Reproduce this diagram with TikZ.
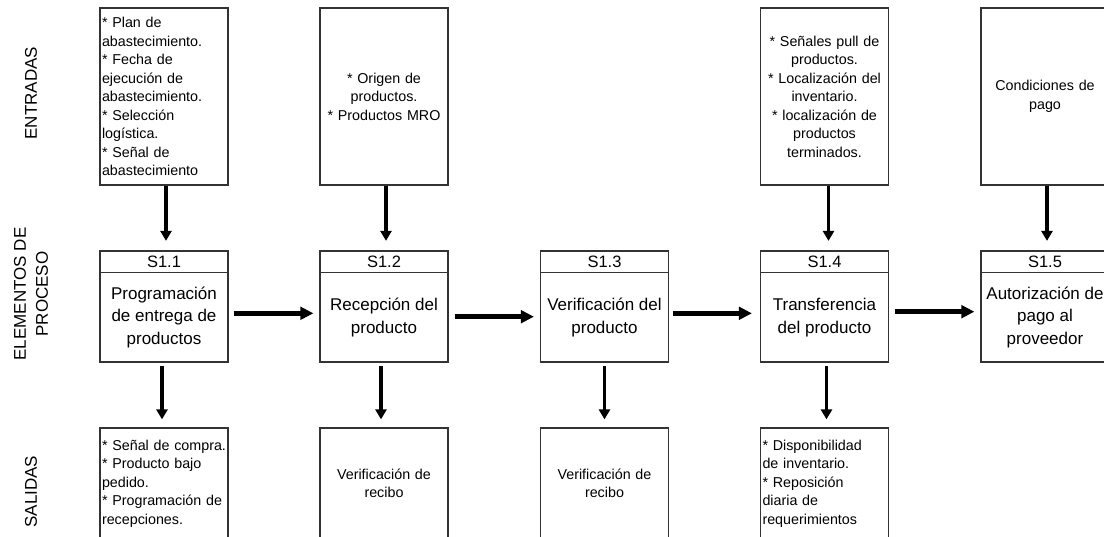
\documentclass[tikz,border=0pt]{standalone}
\usepackage{fontspec}
\setmainfont{Liberation Sans}
\usetikzlibrary{arrows.meta}
\newcommand{\nl}{\\\relax}
\begin{document}
\begin{tikzpicture}[x=1pt,y=-1pt,
  box/.style={draw=black!80, line width=1.2pt, minimum width=128pt, inner xsep=2pt, inner ysep=0pt, text width=124pt, font=\fontsize{14.3}{18.5}\selectfont},
  ibox/.style={box, minimum height=177pt},
  obox/.style={box, minimum height=111pt},
  pbox/.style={draw=black!80, line width=1.2pt, minimum width=128pt, minimum height=111pt, inner sep=0pt},
  hline/.style={draw=black!80, line width=1.2pt},
  hdr/.style={font=\fontsize{16.5}{20}\selectfont, inner sep=0pt},
  ptext/.style={font=\fontsize{17}{22.5}\selectfont, align=center, inner sep=0pt},
  lbl/.style={font=\fontsize{17}{22}\selectfont, rotate=90, align=center, inner sep=0pt},
  varrow/.style={line width=3.5pt, -{Triangle[length=10pt,width=11pt]}},
  harrow/.style={line width=4.5pt, -{Triangle[length=13pt,width=12.5pt]}}
]
\useasboundingbox[fill=white] (0,0) rectangle (1104,537);

% row labels
\node[lbl] (lin) at (31,93.3) {ENTRADAS};
\node[lbl] (lpr) at (31,294) {ELEMENTOS DE\\PROCESO};
\node[lbl] (lout) at (31,491.7) {SALIDAS};

% inputs
\node[ibox, align=left] (i1) at (164,96.5) {* Plan de\nl abastecimiento.\nl * Fecha de\nl ejecución de\nl abastecimiento.\nl * Selección\nl logística.\nl * Señal de\nl abastecimiento};
\node[ibox, align=center] (i2) at (384,96.5) {* Origen de\nl productos.\nl * Productos MRO};
\node[ibox, align=center] (i4) at (824.5,96.5) {* Señales pull de\nl productos.\nl * Localización del\nl inventario.\nl * localización de\nl productos\nl terminados.};
\node[ibox, align=center] (i5) at (1045,96.5) {Condiciones de\nl pago};

% process boxes
\foreach \n/\x/\lab in {1/164/S1.1, 2/384/S1.2, 3/604.5/S1.3, 4/824.5/S1.4, 5/1045/S1.5}{
  \node[pbox] (p\n) at (\x,306.5) {};
  \draw[hline] ([yshift=-22pt]p\n.north west) -- ([yshift=-22pt]p\n.north east);
  \node[hdr] (h\n) at ([yshift=-11.5pt]p\n.north) {\lab};
}
\node[ptext] (t1) at ([yshift=-11pt]p1.center) {Programación\\de entrega de\\productos};
\node[ptext] (t2) at ([yshift=-11pt]p2.center) {Recepción del\\producto};
\node[ptext] (t3) at ([yshift=-11pt]p3.center) {Verificación del\\producto};
\node[ptext] (t4) at ([yshift=-11pt]p4.center) {Transferencia\\del producto};
\node[ptext] (t5) at ([yshift=-11pt]p5.center) {Autorización de\\pago al\\proveedor};

% outputs
\node[obox, align=left] (o1) at (164,483.5) {* Señal de compra.\nl * Producto bajo\nl pedido.\nl * Programación de\nl recepciones.};
\node[obox, align=center] (o2) at (384,483.5) {Verificación de\nl recibo};
\node[obox, align=center] (o3) at (604.5,483.5) {Verificación de\nl recibo};
\node[obox, align=left] (o4) at (824.5,483.5) {* Disponibilidad\nl de inventario.\nl * Reposición\nl diaria de\nl requerimientos};

% input arrows
\draw[varrow] ([xshift=2pt]i1.south) -- ([xshift=2pt,yshift=9.5pt]p1.north);
\draw[varrow] ([xshift=2pt]i2.south) -- ([xshift=2pt,yshift=9.5pt]p2.north);
\draw[varrow] ([xshift=4pt]i4.south) -- ([xshift=4pt,yshift=9.5pt]p4.north);
\draw[varrow] ([xshift=2pt]i5.south) -- ([xshift=2pt,yshift=9.5pt]p5.north);

% output arrows
\draw[varrow] ([xshift=-2pt,yshift=-3pt]p1.south) -- ([xshift=-2pt,yshift=8pt]o1.north);
\draw[varrow] ([xshift=-3pt,yshift=-3pt]p2.south) -- ([xshift=-3pt,yshift=8pt]o2.north);
\draw[varrow] ([xshift=0pt,yshift=-3pt]p3.south) -- ([xshift=0pt,yshift=8pt]o3.north);
\draw[varrow] ([xshift=2pt,yshift=-3pt]p4.south) -- ([xshift=2pt,yshift=8pt]o4.north);

% process flow arrows
\draw[harrow] ([xshift=5pt,yshift=-6.8pt]p1.east) -- ([xshift=-6pt,yshift=-6.8pt]p2.west);
\draw[harrow] ([xshift=6pt,yshift=-10.2pt]p2.east) -- ([xshift=-6pt,yshift=-10.2pt]p3.west);
\draw[harrow] ([xshift=4pt,yshift=-6.8pt]p3.east) -- ([xshift=-8pt,yshift=-6.8pt]p4.west);
\draw[harrow] ([xshift=6pt,yshift=-5.2pt]p4.east) -- ([xshift=-6pt,yshift=-5.2pt]p5.west);
\end{tikzpicture}
\end{document}
